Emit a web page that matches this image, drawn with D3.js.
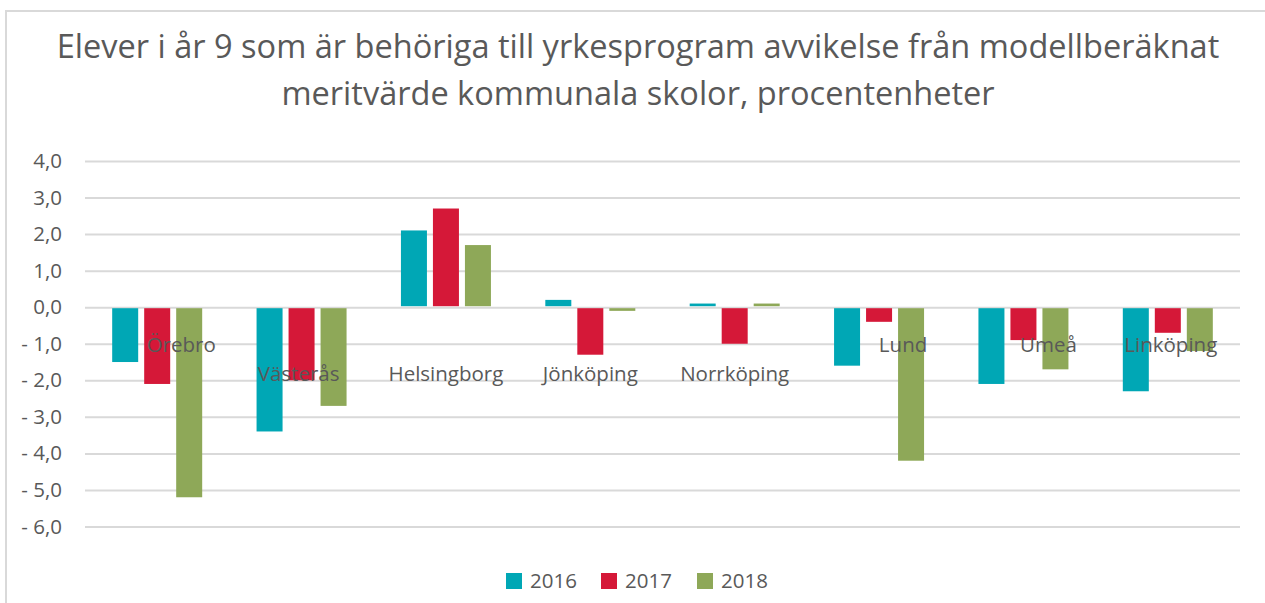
<!DOCTYPE html>
<html>
<head>
<meta charset="utf-8">
<script src="https://cdn.jsdelivr.net/npm/d3@7"></script>
<style>
  body { margin: 0; background: #fff; }
  text { font-family: "Open Sans", "Noto Sans", sans-serif; fill: #595959; }
</style>
</head>
<body>
<div class="root"></div>
<script>
const titleLines = [
  'Elever i år 9 som är behöriga till yrkesprogram avvikelse från modellberäknat',
  'meritvärde kommunala skolor, procentenheter'
];
const cities = ['Örebro', 'Västerås', 'Helsingborg', 'Jönköping', 'Norrköping', 'Lund', 'Umeå', 'Linköping'];
const years = ['2016', '2017', '2018'];
const v2016 = [-1.5, -3.4, 2.1, 0.2, 0.1, -1.6, -2.1, -2.3];
const v2017 = [-2.1, -2.0, 2.7, -1.3, -1.0, -0.4, -0.9, -0.7];
const v2018 = [-5.2, -2.7, 1.7, -0.1, 0.1, -4.2, -1.7, -1.2];
const yTicks = [4, 3, 2, 1, 0, -1, -2, -3, -4, -5, -6];

// label placement as excel drew it (row 0 or 1, nudge in px)
const labelRow = [0, 1, 1, 1, 1, 0, 0, 0];
const labelDx = [24, -3, 0, 0, 0, 24, 25, 3];

const svgWidth = 1265;
const svgHeight = 603;
const labelSize = '20.5px';
const colors = d3.scaleOrdinal().domain(years).range(['#00a7b5', '#d51838', '#8ea858']);

const svg = d3.select('.root')
  .append('svg')
  .attr('width', svgWidth)
  .attr('height', svgHeight);

// chart frame
svg.append('rect')
  .attr('x', 6).attr('y', 11)
  .attr('width', svgWidth + 10).attr('height', svgHeight + 10)
  .attr('fill', 'none')
  .attr('stroke', '#d9d9d9')
  .attr('stroke-width', 2);

const title = svg.append('g').attr('class', 'title');
titleLines.forEach((t, i) => {
  title.append('text')
    .attr('x', 638)
    .attr('y', 58 + i * 47)
    .attr('text-anchor', 'middle')
    .style('font-size', '28px')
    .text(t);
});
// squeeze title to the width of the original
const first = title.select('text').node();
const fs = 28 * 1163 / first.getComputedTextLength();
title.selectAll('text').style('font-size', fs + 'px');

const margin = { top: 161, left: 85, right: 25 };
const width = 1240 - margin.left;

const x0 = d3.scaleBand().domain(cities).range([0, width]).padding(0);
const groupW = 90;
const x1 = d3.scaleBand().domain(years).range([0, groupW]).paddingInner(0.1875).paddingOuter(0);
const y = d3.scaleLinear().domain([-6, 4]).range([526.5 - margin.top, 0]);

const g = svg.append('g')
  .attr('transform', `translate(${margin.left}, ${margin.top})`);

g.append('g')
  .attr('class', 'axis axis--y')
  .call(d3.axisLeft(y).tickValues(yTicks).tickSize(-width).tickPadding(23)
    .tickFormat(d => (d < 0 ? '- ' : '') + d3.format('.1f')(Math.abs(d)).replace('.', ',')))
  .call(a => a.select('.domain').remove())
  .call(a => a.selectAll('line').attr('stroke', '#d9d9d9').attr('stroke-width', 2))
  .call(a => a.selectAll('text').style('font-size', labelSize).attr('fill', '#595959')
    .style('font-family', '"Open Sans", sans-serif'));

const rows = cities.map((c, i) => ({ city: c, i: i, values: [v2016[i], v2017[i], v2018[i]] }));

const city = g.selectAll('.city')
  .data(rows)
  .enter()
  .append('g')
  .attr('class', 'city')
  .attr('transform', d => `translate(${x0(d.city) + (x0.bandwidth() - groupW) / 2}, 0)`);

city.selectAll('rect')
  .data(d => d.values.map((v, k) => ({ year: years[k], value: v })))
  .enter()
  .append('rect')
  .attr('x', d => x1(d.year))
  .attr('width', x1.bandwidth())
  .attr('y', d => d.value >= 0 ? y(d.value) : y(0) + 1)
  .attr('height', d => d.value >= 0 ? y(0) - 1 - y(d.value) : y(d.value) - y(0) - 1)
  .attr('fill', d => colors(d.year));

g.selectAll('.cat-label')
  .data(rows)
  .enter()
  .append('text')
  .attr('class', 'cat-label')
  .attr('x', d => x0(d.city) + x0.bandwidth() / 2 + labelDx[d.i])
  .attr('y', d => y(-1) + 8 + labelRow[d.i] * 29)
  .attr('text-anchor', 'middle')
  .style('font-size', labelSize)
  .text(d => d.city);

// legend
const legend = svg.append('g').attr('class', 'legend');
const legendX = [506, 601, 697];
years.forEach((yr, k) => {
  legend.append('rect')
    .attr('x', legendX[k]).attr('y', 573)
    .attr('width', 16).attr('height', 16)
    .attr('fill', colors(yr));
  legend.append('text')
    .attr('x', legendX[k] + 24).attr('y', 588)
    .style('font-size', labelSize)
    .text(yr);
});
</script>
</body>
</html>
